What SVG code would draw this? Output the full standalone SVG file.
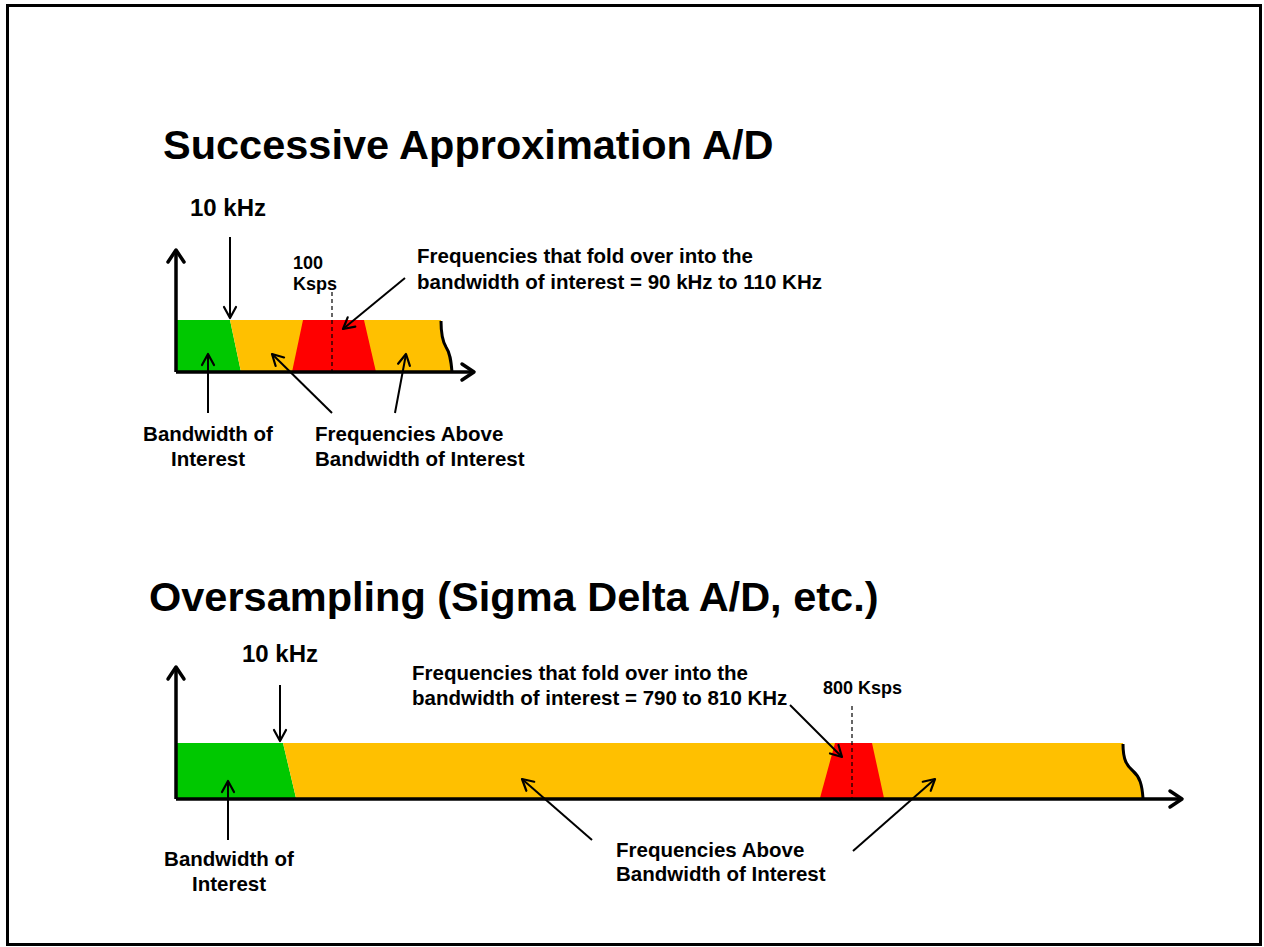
<svg xmlns="http://www.w3.org/2000/svg" width="1264" height="947" viewBox="0 0 1264 947">
<style>
.t{font-family:"Liberation Sans",Arial,sans-serif;font-weight:bold;fill:#000}
.title{font-size:41.5px}
.lbl{font-size:20.5px}
.khz{font-size:24px}
.sm{font-size:18px}
.ax{stroke:#000;stroke-width:3.5;fill:none;marker-end:url(#axh)}
.ar{stroke:#000;stroke-width:2;fill:none;marker-end:url(#arh)}
.dash{stroke:#000;stroke-width:1.2;stroke-dasharray:4 3;fill:none}
.sq{stroke:#000;stroke-width:3;fill:none}
.g{fill:#00C800}.o{fill:#FFC000}.r{fill:#FF0000}
</style>
<defs>
<marker id="axh" markerUnits="userSpaceOnUse" viewBox="-14 -10 16 20" refX="0" refY="0" markerWidth="16" markerHeight="20" orient="auto" overflow="visible">
<path d="M-12,-8 L0,0 L-12,8" fill="none" stroke="#000" stroke-width="3.5" stroke-linecap="round" stroke-linejoin="round"/>
</marker>
<marker id="arh" markerUnits="userSpaceOnUse" viewBox="-12 -8 14 16" refX="0" refY="0" markerWidth="14" markerHeight="16" orient="auto" overflow="visible">
<path d="M-11,-6 L0,0 L-11,6" fill="none" stroke="#000" stroke-width="2.2" stroke-linecap="round" stroke-linejoin="round"/>
</marker>
</defs>
<rect x="0" y="0" width="1264" height="947" fill="#fff"/>
<rect x="7.5" y="5.5" width="1253" height="939" fill="none" stroke="#000" stroke-width="3"/>

<g id="title-top"><text class="t title" x="163" y="159">Successive Approximation A/D</text></g>
<g id="title-bottom"><text class="t title" x="149" y="611">Oversampling (Sigma Delta A/D, etc.)</text></g>

<g id="chart-top">
<polygon class="g" points="176,320 230,320 241,372 176,372"/>
<path class="o" d="M230,320 H441 C441,335 443,342 446,347 C450,353 451,360 452,372 H241 Z"/>
<polygon class="r" points="303,320 364,320 376,372 292,372"/>
<path class="sq" d="M441,321 C441,335 443,342 446,347 C450,353 451,360 452,372"/>
<path class="dash" d="M332,292 V372"/>
</g>
<g id="chart-bottom">
<polygon class="g" points="176,743 283,743 296,798 176,798"/>
<path class="o" d="M283,743 H1123 C1123,760 1127,766 1133,771 C1140,777 1142,785 1143,798 H296 Z"/>
<polygon class="r" points="835,743 872,743 884,798 820,798"/>
<path class="sq" d="M1123,744 C1123,760 1127,766 1133,771 C1140,777 1142,785 1143,798"/>
<path class="dash" d="M852,706 V798"/>
</g>

<g id="connectors">
<path class="ax" d="M176,372 V250"/>
<path class="ax" d="M176,372 H474"/>
<path class="ax" d="M176,799 V667"/>
<path class="ax" d="M176,799 H1182"/>
<path class="ar" d="M230,237 V318"/>
<path class="ar" d="M405,278 L343,329"/>
<path class="ar" d="M208,413 V354"/>
<path class="ar" d="M332,413 L272,354"/>
<path class="ar" d="M395,413 L406,354"/>
<path class="ar" d="M280,685 V741"/>
<path class="ar" d="M790,705 L842,757"/>
<path class="ar" d="M228,840 V781"/>
<path class="ar" d="M592,840 L522,779"/>
<path class="ar" d="M853,851 L935,779"/>
</g>

<g id="labels-top">
<text class="t khz" x="190" y="216">10 kHz</text>
<text class="t sm" x="293" y="269">100</text>
<text class="t sm" x="293" y="290">Ksps</text>
<text class="t lbl" x="417" y="263">Frequencies that fold over into the</text>
<text class="t lbl" x="417" y="289">bandwidth of interest = 90 kHz to 110 KHz</text>
<text class="t lbl" x="208" y="441" text-anchor="middle">Bandwidth of</text>
<text class="t lbl" x="208" y="466" text-anchor="middle">Interest</text>
<text class="t lbl" x="315" y="441">Frequencies Above</text>
<text class="t lbl" x="315" y="466">Bandwidth of Interest</text>
</g>
<g id="labels-bottom">
<text class="t khz" x="242" y="662">10 kHz</text>
<text class="t lbl" x="412" y="680">Frequencies that fold over into the</text>
<text class="t lbl" x="412" y="705">bandwidth of interest = 790 to 810 KHz</text>
<text class="t sm" x="823" y="694">800 Ksps</text>
<text class="t lbl" x="229" y="866" text-anchor="middle">Bandwidth of</text>
<text class="t lbl" x="229" y="891" text-anchor="middle">Interest</text>
<text class="t lbl" x="616" y="857">Frequencies Above</text>
<text class="t lbl" x="616" y="881">Bandwidth of Interest</text>
</g>
</svg>
